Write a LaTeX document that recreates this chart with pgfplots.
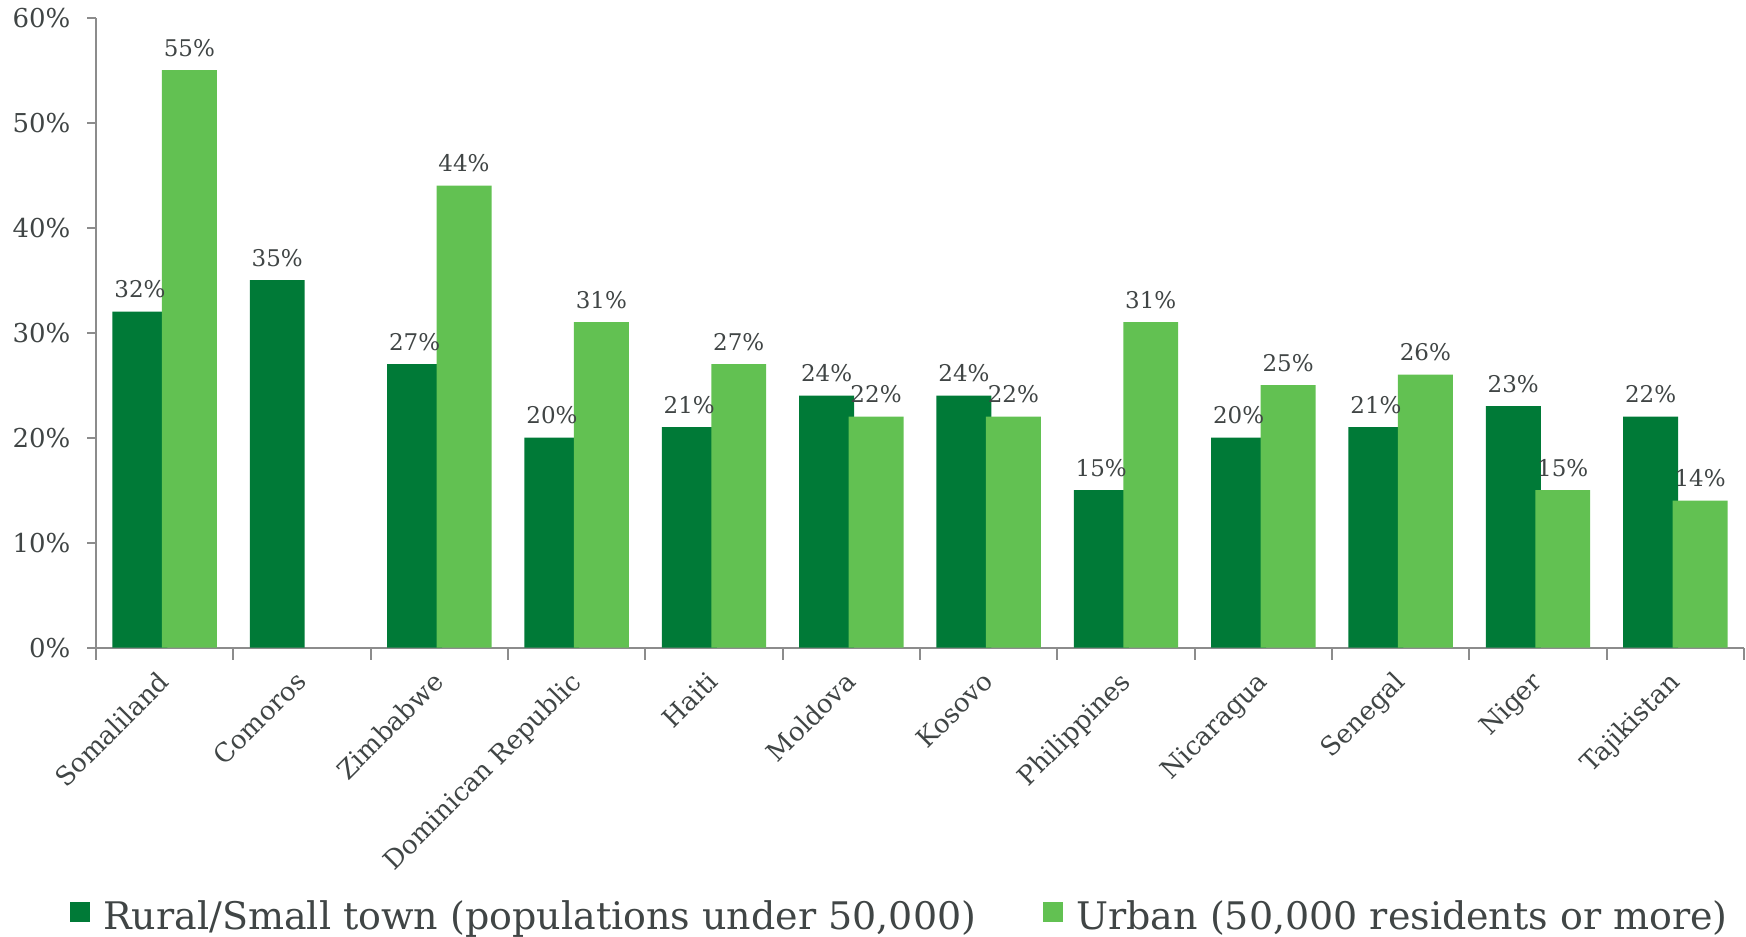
\documentclass[border=0pt]{standalone}
\usepackage{fontspec}
\setmainfont{DejaVu Serif}
\usepackage{pgfplots}
\pgfplotsset{compat=1.18}
\definecolor{dkg}{HTML}{007A37}
\definecolor{ltg}{HTML}{62C152}
\definecolor{txt}{HTML}{404545}
\definecolor{axg}{HTML}{8C8C8C}
\begin{document}
\begin{tikzpicture}
\begin{axis}[
  scale only axis,
  width=824pt, height=315pt,
  xmin=0, xmax=12, ymin=0, ymax=60,
  axis lines=left,
  axis line style={-, axg, line width=1pt},
  /pgf/number format/assume math mode=true,
  ytick={0,10,...,60},
  yticklabel={\pgfmathprintnumber{\tick}\%},
  yticklabel style={font=\fontsize{13}{15}\selectfont, color=txt, xshift=-5pt},
  tick align=outside,
  major tick length=4.3pt,
  minor tick length=6pt,
  tick style={axg, line width=1pt},
  major x tick style={draw=none},
  xtick={0.5,1.5,...,11.5},
  minor xtick={0,1,...,12},
  xticklabels={Somaliland,Comoros,Zimbabwe,Dominican Republic,Haiti,Moldova,Kosovo,Philippines,Nicaragua,Senegal,Niger,Tajikistan},
  xticklabel style={xshift=-4pt, yshift=-6.5pt, rotate=45, anchor=north east, font=\fontsize{13}{15}\selectfont, color=txt, inner sep=0pt},
  nodes near coords={\pgfmathprintnumber{\pgfplotspointmeta}\%},
  every node near coord/.append style={font=\fontsize{11.5}{14}\selectfont, color=txt, inner sep=0pt},
  legend columns=2,
  legend style={draw=none, fill=none, at={(-0.0158,-0.426)}, anchor=west, inner sep=0pt,
    font=\fontsize{19}{22}\selectfont, text=txt,
    /tikz/every even column/.append style={column sep=31.5pt}},
  legend image code/.code={\fill[#1,draw=none] (0pt,-3pt) rectangle (10pt,7pt); \path (14.5pt,0pt);},
]
\addplot[ybar, bar width=0.4, bar shift=-0.18, fill=dkg, draw=none,
  every node near coord/.append style={xshift=-12.36pt, yshift=6.5pt}] coordinates {
 (0.5,32) (1.5,35) (2.5,27) (3.5,20) (4.5,21) (5.5,24) (6.5,24) (7.5,15) (8.5,20) (9.5,21) (10.5,23) (11.5,22)};
\addlegendentry{Rural/Small town (populations under 50,000)}
\addplot[ybar, bar width=0.4, bar shift=0.18, fill=ltg, draw=none,
  every node near coord/.append style={xshift=12.36pt, yshift=6.5pt}] coordinates {
 (0.5,55) (2.5,44) (3.5,31) (4.5,27) (5.5,22) (6.5,22) (7.5,31) (8.5,25) (9.5,26) (10.5,15) (11.5,14)};
\addlegendentry{Urban (50,000 residents or more)}
\end{axis}
\pgfresetboundingbox
\path (-48pt,-144.65pt) rectangle (825pt,323.85pt);
\end{tikzpicture}
\end{document}
